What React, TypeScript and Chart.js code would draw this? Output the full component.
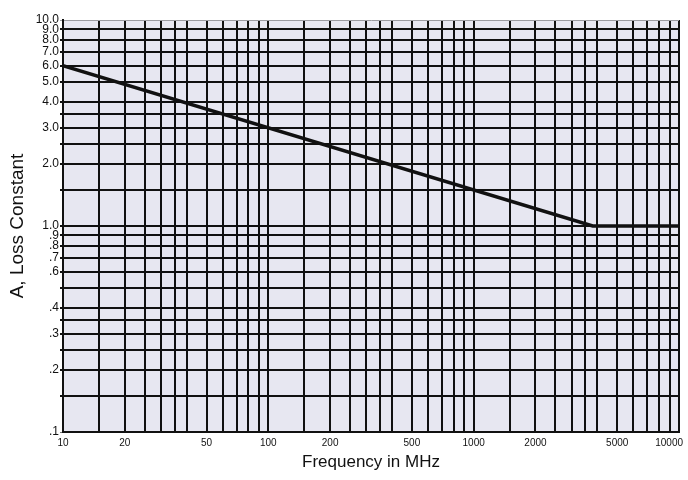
import React, { useEffect, useRef } from "react";
import { Chart, registerables } from "chart.js";

Chart.register(...registerables);

// Series: loss constant A versus frequency (MHz)
const freqMHz = [10, 3800, 10000];
const lossConstant = [6.0, 1.0, 1.0];

// Tick labels
const xLabelValues = [10, 20, 50, 100, 200, 500, 1000, 2000, 5000, 10000];
const xLabels = ["10", "20", "50", "100", "200", "500", "1000", "2000", "5000", "10000"];
const yLabelValues = [10, 9, 8, 7, 6, 5, 4, 3, 2, 1, 0.9, 0.8, 0.7, 0.6, 0.4, 0.3, 0.2, 0.1];
const yLabels = ["10.0", "9.0", "8.0", "7.0", "6.0", "5.0", "4.0", "3.0", "2.0", "1.0", ".9", ".8", ".7", ".6", ".4", ".3", ".2", ".1"];

// Grid line positions (log paper rulings)
const gridMantissas = [1, 1.5, 2, 2.5, 3, 3.5, 4, 5, 6, 7, 8, 9];
const xDecades = [10, 100, 1000];
const yDecades = [0.1, 1];
const xGrid = [...xDecades.flatMap((d) => gridMantissas.map((m) => m * d)), 10000];
const yGrid = [...yDecades.flatMap((d) => gridMantissas.map((m) => m * d)), 10];

const FONT = "'Liberation Sans', Arial, Helvetica, sans-serif";
const INK = "#111111";
const PAPER = "#e7e7f1";

const near = (a: number, b: number) => Math.abs(a - b) <= Math.abs(b) * 1e-6;

const bgPlugin = {
  id: "paperBg",
  beforeDraw(chart: any) {
    const { ctx, chartArea } = chart;
    if (!chartArea) return;
    ctx.save();
    ctx.fillStyle = PAPER;
    ctx.fillRect(chartArea.left, chartArea.top, chartArea.right - chartArea.left, chartArea.bottom - chartArea.top);
    ctx.restore();
  },
};

const xLabelPlugin = {
  id: "xLabels",
  afterDraw(chart: any) {
    const { ctx, chartArea } = chart;
    const scale = chart.scales.x;
    ctx.save();
    ctx.font = `10px ${FONT}`;
    ctx.fillStyle = INK;
    ctx.textAlign = "center";
    ctx.textBaseline = "middle";
    xLabelValues.forEach((v, i) => {
      const text = xLabels[i];
      const w = ctx.measureText(text).width;
      let x = scale.getPixelForValue(v);
      x = Math.max(x, w / 2 + 2);
      x = Math.min(x, chart.width - w / 2 - 5);
      ctx.fillText(text, x, chartArea.bottom + 11);
    });
    ctx.restore();
  },
};

export default function App() {
  const canvasRef = useRef<HTMLCanvasElement | null>(null);

  useEffect(() => {
    if (!canvasRef.current) return;
    const chart = new Chart(canvasRef.current, {
      type: "line",
      data: {
        datasets: [
          {
            data: freqMHz.map((f, i) => ({ x: f, y: lossConstant[i] })),
            borderColor: INK,
            borderWidth: 3.5,
            pointRadius: 0,
            fill: false,
            tension: 0,
          },
        ],
      },
      options: {
        animation: false,
        responsive: false,
        layout: { padding: { top: 20, right: 9, bottom: 0, left: 0 } },
        plugins: { legend: { display: false }, tooltip: { enabled: false }, title: { display: false } },
        scales: {
          x: {
            type: "logarithmic",
            min: 10,
            max: 10000,
            afterBuildTicks: (s: any) => {
              s.ticks = xGrid.map((v) => ({ value: v }));
            },
            afterFit: (s: any) => {
              s.height = 48;
            },
            ticks: { display: false, autoSkip: false },
            grid: { color: INK, lineWidth: 2, drawTicks: false },
            border: { color: INK, width: 2 },
            title: {
              display: true,
              text: "Frequency in MHz",
              color: INK,
              font: { family: FONT, size: 17 },
              padding: { top: 0, bottom: 7 },
            },
          },
          y: {
            type: "logarithmic",
            min: 0.1,
            max: 10,
            afterBuildTicks: (s: any) => {
              s.ticks = yGrid.map((v) => ({ value: v }));
            },
            afterFit: (s: any) => {
              s.width = 63;
            },
            ticks: {
              autoSkip: false,
              padding: 1,
              color: INK,
              font: { family: FONT, size: 12 },
              callback: (value: any) => {
                const idx = yLabelValues.findIndex((lv) => near(Number(value), lv));
                return idx >= 0 ? yLabels[idx] : "";
              },
            },
            grid: {
              color: (c: any) => (c.tick && near(c.tick.value, 10) ? "#9a9aa0" : c.tick && near(c.tick.value, 0.1) ? "#777" : INK),
              lineWidth: (c: any) => (c.tick && (near(c.tick.value, 10) || near(c.tick.value, 0.1)) ? 1 : 2),
              tickLength: 3,
            },
            border: { color: INK, width: 2 },
            title: {
              display: true,
              text: "A, Loss Constant",
              color: INK,
              font: { family: FONT, size: 19 },
              padding: { top: 6, bottom: 0 },
            },
          },
        },
      },
      plugins: [bgPlugin, xLabelPlugin],
    } as any);
    return () => chart.destroy();
  }, []);

  return (
    <div style={{ position: "fixed", left: 0, top: 0, width: 688, height: 480, background: "#fff" }}>
      <canvas ref={canvasRef} width={688} height={480} style={{ display: "block" }} />
    </div>
  );
}
